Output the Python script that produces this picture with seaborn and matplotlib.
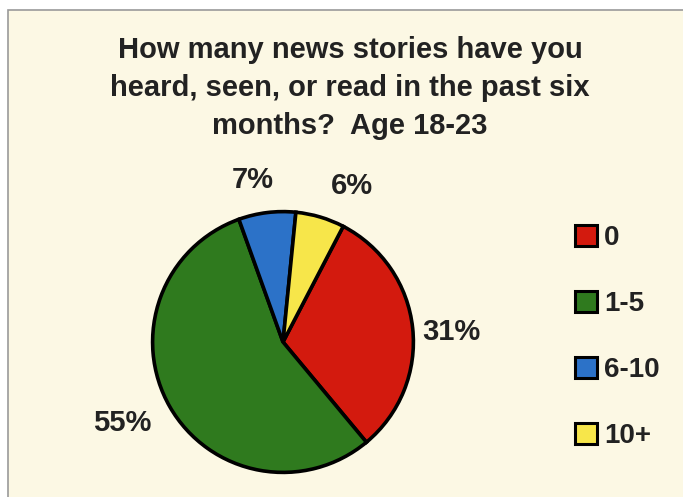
import matplotlib
matplotlib.use("Agg")
import matplotlib.pyplot as plt
from matplotlib.patches import Rectangle
import seaborn as sns

# Survey responses, ages 18-23
categories = ["0", "1-5", "6-10", "10+"]
shares = [31, 55, 7, 6]
pct_labels = ["31%", "55%", "7%", "6%"]
# label anchor points in pie data units (radius = 1)
label_pos = [(1.29, 0.08), (-1.23, -0.62), (-0.23, 1.24), (0.53, 1.20)]

title = "How many news stories have you\nheard, seen, or read in the past six\nmonths?  Age 18-23"

sns.set_theme(style="white")
plt.rcParams["font.family"] = ["Liberation Sans", "DejaVu Sans"]

colors = ["#D31A0E", "#2F7A1E", "#2C72C8", "#F7E64A"]
ink = "#222222"

W, H = 683, 497
fig = plt.figure(figsize=(W / 100, H / 100), dpi=100)
fig.patch.set_facecolor("white")

# cream chart area with thin grey frame on top/left
fig.patches.append(Rectangle((8 / W, -0.1), 1, 1.1 - 10 / H, transform=fig.transFigure,
                             facecolor="#FCF8E4", edgecolor="#9A9A9A", linewidth=1.2,
                             zorder=-5))

# pie axes: centre (283, 342) px, radius 133 px
cx, cy, r = 283, 342, 133
ax = fig.add_axes([(cx - r) / W, (H - cy - r) / H, 2 * r / W, 2 * r / H])
ax.set_zorder(2)
ax.set_facecolor("none")
wedges, _ = ax.pie(shares, colors=colors, startangle=62.5, counterclock=False,
                   radius=1.0,
                   wedgeprops=dict(edgecolor="black", linewidth=2.6))
ax.set_xlim(-1.02, 1.02)
ax.set_ylim(-1.02, 1.02)
ax.set_aspect("auto")
ax.axis("off")

for txt, (x, y) in zip(pct_labels, label_pos):
    ax.text(x, y, txt, ha="center", va="center", fontsize=21, fontweight="bold",
            color=ink, clip_on=False)

fig.text(350 / W, 1 - 88 / H, title, ha="center", va="center", fontsize=21,
         fontweight="bold", color=ink, linespacing=1.46, multialignment="center",
         zorder=3)

leg = fig.legend(wedges, categories, loc="center left",
                 bbox_to_anchor=(575 / W, 1 - 337 / H), frameon=False,
                 prop=dict(size=20, weight="bold"), handlelength=0.8,
                 handleheight=0.8, handletextpad=0.25, labelspacing=1.43,
                 borderpad=0, borderaxespad=0)
leg.set_zorder(3)
for t in leg.get_texts():
    t.set_color(ink)
for h in leg.legend_handles:
    h.set_linewidth(2.2)
    h.set_edgecolor("black")

fig.savefig("out.png", dpi=100)
